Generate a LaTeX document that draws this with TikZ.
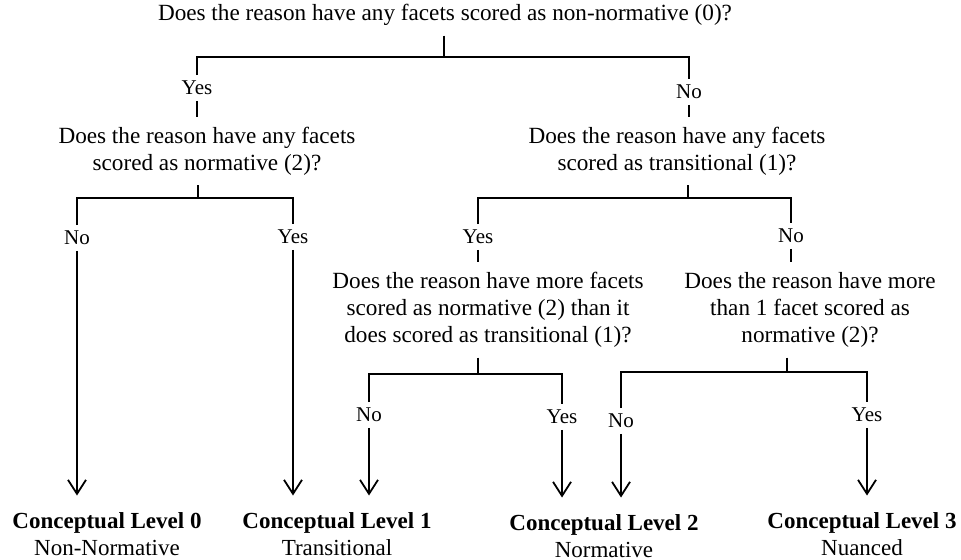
\documentclass[tikz,border=0pt]{standalone}
\usepackage{fontspec}
\setmainfont{Liberation Serif}
\usetikzlibrary{arrows.meta,positioning}

\begin{document}
\begin{tikzpicture}
		[x=0.5pt,y=-0.5pt,line width=0.9pt,
		ques/.style={align=center,inner sep=0pt,outer sep=5pt,font=\fontsize{11.6}{13.5}\selectfont},
		ans/.style={inner sep=0pt,outer sep=3pt,font=\fontsize{10.5}{12}\selectfont},
		level/.style={align=center,inner sep=0pt,font=\fontsize{11.5}{13.5}\selectfont},
		arr/.style={-{Straight Barb[length=7pt,width=9pt,line width=0.9pt]},shorten >=8pt}]
		\useasboundingbox (0,0) rectangle (961,560);
		
		\node[ques] (q0) at (445,15) {Does the reason have any facets scored as non-normative (0)?};
		\node[ans] (yes1) at (197,88) {Yes};
		\node[ans] (no1) at (689,92) {No};
		\node[ques] (q1l) at (207,151) {Does the reason have any facets\\scored as normative (2)?};
		\node[ques] (q1r) at (677,151) {Does the reason have any facets\\scored as transitional (1)?};
		\node[ans] (no2) at (77,238) {No};
		\node[ans] (yes2) at (293,237) {Yes};
		\node[ans] (yes3) at (478,237) {Yes};
		\node[ans] (no3) at (791,236) {No};
		\node[ques] (q2l) at (488,310) {Does the reason have more facets\\scored as normative (2) than it\\does scored as transitional (1)?};
		\node[ques] (q2r) at (810,310) {Does the reason have more\\than 1 facet scored as\\normative (2)?};
		\node[ans] (no4) at (369,415) {No};
		\node[ans] (yes4) at (562,417) {Yes};
		\node[ans] (no5) at (621,421) {No};
		\node[ans] (yes5) at (867,415) {Yes};
		
		\node[level] (lvl0) at (107,534) {\textbf{Conceptual Level 0}\\Non-Normative};
		\node[level] (lvl1) at (337,534) {\textbf{Conceptual Level 1}\\Transitional};
		\node[level] (lvl2) at (604,536) {\textbf{Conceptual Level 2}\\Normative};
		\node[level] (lvl3) at (862,534) {\textbf{Conceptual Level 3}\\Nuanced};
		
		\coordinate (j0) at (444,57);
		\coordinate (j1) at (198,198);
		\coordinate (j2) at (688,198);
		\coordinate (j3) at (478,374);
		\coordinate (j4) at (787,372);
		
		\draw (q0.south -| j0) -- (j0);
		\draw (yes1.north) |- (j0) -| (no1.north);
		\draw (yes1.south) -- (yes1 |- q1l.north);
		\draw (no1.south) -- (no1 |- q1r.north);
		
		\draw (q1l.south -| j1) -- (j1);
		\draw (no2.north) |- (j1) -| (yes2.north);
		\draw[arr] (no2.south) -- (no2 |- lvl0.north);
		\draw[arr] (yes2.south) -- (yes2 |- lvl1.north);
		
		\draw (q1r.south -| j2) -- (j2);
		\draw (yes3.north) |- (j2) -| (no3.north);
		\draw (yes3.south) -- (yes3 |- q2l.north);
		\draw (no3.south) -- (no3 |- q2r.north);
		
		\draw (q2l.south -| j3) -- (j3);
		\draw (no4.north) |- (j3) -| (yes4.north);
		\draw[arr] (no4.south) -- (no4 |- lvl1.north);
		\draw[arr] (yes4.south) -- (yes4 |- lvl2.north);
		
		\draw (q2r.south -| j4) -- (j4);
		\draw (no5.north) |- (j4) -| (yes5.north);
		\draw[arr] (no5.south) -- (no5 |- lvl2.north);
		\draw[arr] (yes5.south) -- (yes5 |- lvl3.north);
\end{tikzpicture}
\end{document}
